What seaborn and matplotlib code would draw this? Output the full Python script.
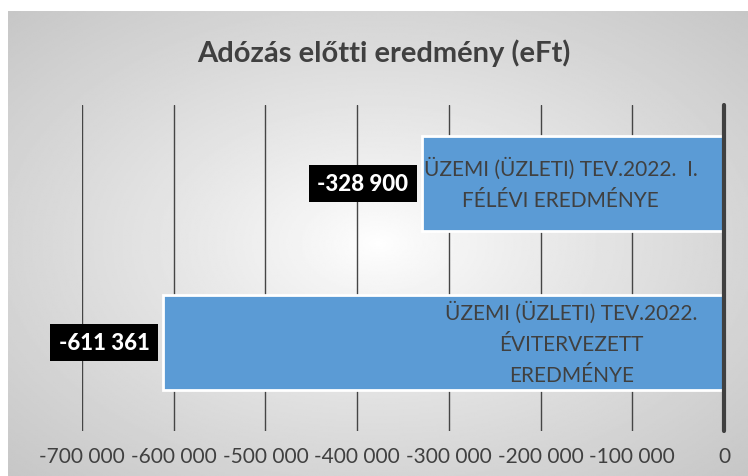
import numpy as np
import seaborn as sns
import matplotlib.pyplot as plt
from matplotlib.ticker import FuncFormatter

# Data
categories = ["ÜZEMI (ÜZLETI) TEV.2022.  I.\nFÉLÉVI EREDMÉNYE",
              "ÜZEMI (ÜZLETI) TEV.2022.\nÉVITERVEZETT\nEREDMÉNYE"]
values = [-328900, -611361]
x_ticks = [-700000, -600000, -500000, -400000, -300000, -200000, -100000, 0]
title = "Adózás előtti eredmény (eFt)"

sns.set_theme(style="white")
plt.rcParams["font.family"] = ["Lato", "DejaVu Sans"]

W, H = 748, 477
fig = plt.figure(figsize=(W / 100, H / 100), dpi=100, facecolor="white")

# Radial grey gradient background of the chart area
bg = fig.add_axes([8 / W, 0, 740 / W, 465 / H], zorder=-1)
yy, xx = np.mgrid[-1:1:300j, -1:1:480j]
r = np.sqrt(xx ** 2 + yy ** 2)
shade = 1 - 0.165 * r ** 0.85
bg.imshow(shade, cmap="gray", vmin=0, vmax=1, aspect="auto", extent=[0, 1, 0, 1])
bg.axis("off")

# Plot area
ax = fig.add_axes([82 / W, (H - 432) / H, (724 - 82) / W, (432 - 106) / H])
ax.set_facecolor("none")
sns.barplot(x=values, y=categories, orient="h", color="#5B9BD5", saturation=1,
            width=0.6, edgecolor="white", linewidth=2, ax=ax)

ax.set_xlim(-700000, 0)
ax.set_ylim(1.557, -0.494)
ax.set_xticks(x_ticks)
ax.xaxis.set_major_formatter(FuncFormatter(lambda v, p: f"{int(v):,}".replace(",", " ")))
ax.tick_params(axis="x", length=0, pad=11, labelsize=15, labelcolor="#404040")
ax.set_yticks([])
ax.set_xlabel("")
ax.set_ylabel("")
for s in ax.spines.values():
    s.set_visible(False)
ax.set_axisbelow(True)
ax.grid(axis="x", color="#454545", linewidth=1)
ax.axvline(0, color="#404040", linewidth=3, clip_on=False, zorder=5)

# Category names inside the bars, next to the zero axis
for i, cat in enumerate(categories):
    ax.annotate(cat, xy=(0, i), xytext=(-19, 0), textcoords="offset points",
                ha="right", va="center", multialignment="center",
                fontsize=15, color="#404040", linespacing=1.7)

# Value labels in black boxes
for i, v in enumerate(values):
    ax.annotate(f"{v:,}".replace(",", " "), xy=(v, i), xytext=(-10, 0),
                textcoords="offset points", ha="right", va="center",
                fontsize=16, fontweight="black", color="white",
                bbox=dict(boxstyle="square,pad=0.38", fc="black", ec="none"))

fig.text(384 / W, 1 - 53 / H, title, ha="center", va="center",
         fontsize=21, fontweight="bold", color="#404040")

fig.savefig("out.png", dpi=100)
